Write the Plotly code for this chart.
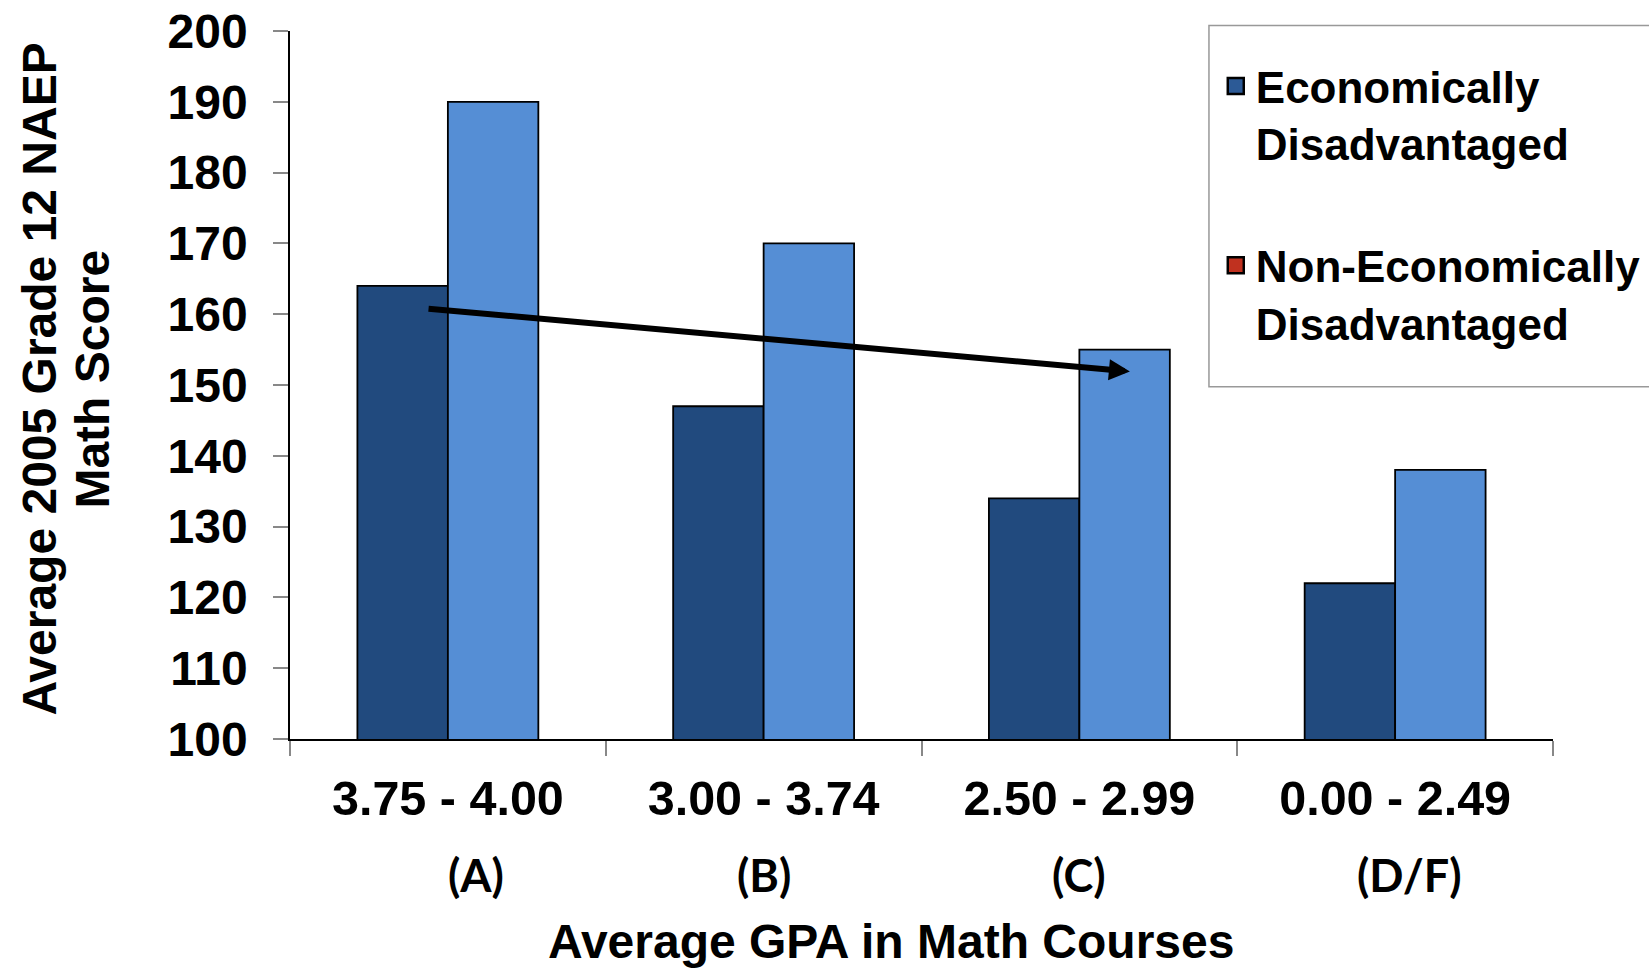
import plotly.graph_objects as go

# ---- data ----
categories = ["3.75 - 4.00", "3.00 - 3.74", "2.50 - 2.99", "0.00 - 2.49"]
grade_letters = ["(A)", "(B)", "(C)", "(D/F)"]
econ_disadv = [164, 147, 134, 122]
non_econ_disadv = [190, 170, 155, 138]
series_names = ["Economically<br>Disadvantaged", "Non-Economically<br>Disadvantaged"]
y_ticks = list(range(100, 201, 10))
# trend arrow (category index, score)
arrow_start = (-0.066, 160.8)
arrow_end = (2.16, 151.9)

ARIAL = "Liberation Sans, Arial, sans-serif"
CALIBRI = "Lato, Carlito, Calibri, sans-serif"

DARK = "#214A7E"
LIGHT = "#558ED5"
LEG_DARK = "#2C5A96"
LEG_RED = "#C0311F"

fig = go.Figure()
fig.add_trace(go.Bar(x=categories, y=econ_disadv, marker=dict(color=DARK, line=dict(color="black", width=1.8)),
                     showlegend=False, name="Economically Disadvantaged"))
fig.add_trace(go.Bar(x=categories, y=non_econ_disadv, marker=dict(color=LIGHT, line=dict(color="black", width=1.8)),
                     showlegend=False, name="Non-Economically Disadvantaged"))

# legend entries (the original legend shows a red swatch for the second series)
for name, col, grp in zip(series_names, [LEG_DARK, LEG_RED], ["g1", "g2"]):
    fig.add_trace(go.Scatter(x=[None], y=[None], mode="markers", name=name, legendgroup=grp,
                             marker=dict(symbol="square", size=16, color=col, line=dict(color="black", width=2.5))))

annotations = []
letter_xshift = [28, 0, 0, 14]  # pixel nudges seen in the original
for cat, letter, dx in zip(categories, grade_letters, letter_xshift):
    annotations.append(dict(x=cat, xref="x", y=-0.192, yref="paper", text=letter, showarrow=False,
                            xshift=dx, yanchor="middle",
                            font=dict(family=CALIBRI, size=45, color="black", weight="bold")))

annotations.append(dict(x=0.476, xref="paper", y=-0.2865, yref="paper", text="Average GPA in Math Courses",
                        showarrow=False, yanchor="middle",
                        font=dict(family=ARIAL, size=48, color="black", weight="bold")))
annotations.append(dict(x=-0.198, xref="paper", y=0.509, yref="paper", text="Average 2005 Grade 12 NAEP",
                        textangle=-90, showarrow=False, xanchor="center", yanchor="middle",
                        font=dict(family=ARIAL, size=48, color="black", weight="bold")))
annotations.append(dict(x=-0.156, xref="paper", y=0.509, yref="paper", text="Math Score",
                        textangle=-90, showarrow=False, xanchor="center", yanchor="middle",
                        font=dict(family=ARIAL, size=48, color="black", weight="bold")))
annotations.append(dict(x=arrow_end[0], y=arrow_end[1], xref="x", yref="y",
                        ax=arrow_start[0], ay=arrow_start[1], axref="x", ayref="y",
                        showarrow=True, arrowhead=2, arrowsize=0.7, arrowwidth=6, arrowcolor="black", text=""))

fig.update_layout(
    width=1649, height=969,
    margin=dict(l=290, r=96, t=31, b=230, autoexpand=False),
    paper_bgcolor="white", plot_bgcolor="white",
    barmode="group", bargap=0.427, bargroupgap=0,
    annotations=annotations,
    shapes=[dict(type="rect", xref="paper", yref="paper", x0=0.7276, x1=1.09, y0=0.4975, y1=1.0078,
                 line=dict(color="#999999", width=1.5), fillcolor="rgba(0,0,0,0)", layer="above")],
    legend=dict(x=0.733, xanchor="left", y=0.972, yanchor="top", bgcolor="rgba(0,0,0,0)",
                borderwidth=0, tracegroupgap=62, valign="top",
                font=dict(family=ARIAL, size=44, color="black", weight="bold")),
    showlegend=True,
)
fig.update_yaxes(range=[100, 200], tickvals=y_ticks, showgrid=False, zeroline=False, automargin=False,
                 showline=True, linecolor="black", linewidth=1.5,
                 ticks="outside", ticklen=15, tickcolor="#888888", tickwidth=1.5,
                 ticklabelstandoff=16,
                 tickfont=dict(family=ARIAL, size=48, color="black", weight="bold"))
fig.update_xaxes(type="category", showgrid=False, showline=True, linecolor="black", linewidth=1.5,
                 automargin=False,
                 ticks="outside", tickson="boundaries", ticklen=15, tickcolor="#888888", tickwidth=1.5,
                 ticklabelstandoff=16,
                 tickfont=dict(family=ARIAL, size=48.5, color="black", weight="bold"))

fig.write_html("out.html", config={"displayModeBar": False},
               post_script="document.body.style.margin='0';document.body.style.padding='0';")
